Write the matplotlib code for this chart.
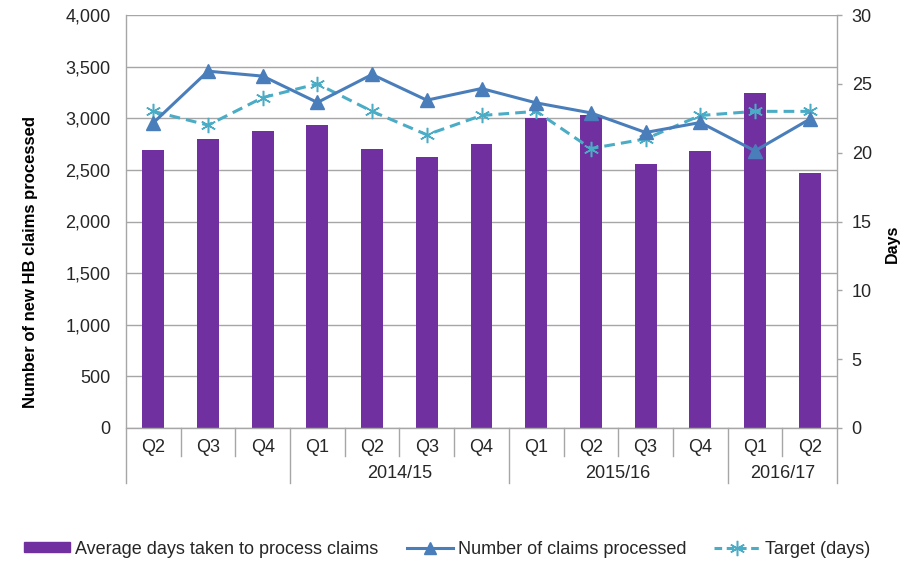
import numpy as np
import matplotlib
matplotlib.use("Agg")
import matplotlib.pyplot as plt
from matplotlib.lines import Line2D
from matplotlib.patches import Patch

plt.rcParams['font.family'] = ['Liberation Sans', 'DejaVu Sans']

quarters = ["Q2", "Q3", "Q4", "Q1", "Q2", "Q3", "Q4", "Q1", "Q2", "Q3", "Q4", "Q1", "Q2"]
years = ["", "2014/15", "2015/16", "2016/17"]
year_spans = [(0, 3), (3, 7), (7, 11), (11, 13)]

avg_days = [20.2, 21.0, 21.6, 22.0, 20.3, 19.7, 20.6, 22.5, 22.7, 19.2, 20.1, 24.3, 18.5]
claims = [2956, 3456, 3408, 3153, 3424, 3175, 3288, 3149, 3052, 2862, 2959, 2684, 2991]
target_days = [23.0, 22.0, 24.0, 25.0, 23.0, 21.3, 22.7, 23.0, 20.3, 21.0, 22.7, 23.0, 23.0]

claims_ticks = np.arange(0, 4001, 500)
days_ticks = np.arange(0, 31, 5)

purple = "#7030A0"
blue = "#4A7EBB"
teal = "#4BACC6"
grid_c = "#A6A6A6"
text_c = "#262626"
FS = 13

fig = plt.figure(figsize=(9.04, 5.62), dpi=100)
ax_d = fig.add_axes([126 / 904, 1 - 428 / 562, 711 / 904, 413 / 562])
ax_c = ax_d.twinx()

x = np.arange(len(quarters))
days_max = 30
claims_max = 4000

# days axis (bottom layer): gridlines, bars and target line
ax_d.set_ylim(0, days_max)
ax_d.set_xlim(-0.5, len(quarters) - 0.5)
for v in claims_ticks:
    ax_d.axhline(v * days_max / claims_max, color=grid_c, lw=1, zorder=0)
ax_d.bar(x, avg_days, width=0.4, color=purple, zorder=2)
ax_d.plot(x, target_days, color=teal, lw=2.2, ls=(0, (3.5, 2)), marker=(6, 2, 0),
          ms=11, mew=1.1, mec=teal, zorder=3)

# claims axis (top layer)
ax_c.set_ylim(0, claims_max)
ax_c.plot(x, claims, color=blue, lw=2.2, marker="^", ms=9.5, zorder=4)
ax_c.patch.set_visible(False)

# claims on the left, days on the right
ax_c.yaxis.tick_left()
ax_d.yaxis.tick_right()

ax_c.set_yticks(claims_ticks)
ax_c.set_yticklabels([f"{v:,}" for v in claims_ticks])
ax_d.set_yticks(days_ticks)
ax_d.set_yticklabels([str(v) for v in days_ticks])

ax_c.tick_params(axis="y", length=0, pad=11, labelsize=FS, labelcolor=text_c)
ax_d.tick_params(axis="y", length=3.6, width=1, color=grid_c, pad=7, labelsize=FS,
                 labelcolor=text_c)

for a in (ax_d, ax_c):
    for s in a.spines.values():
        s.set_visible(False)
ax_d.spines["bottom"].set_visible(True)
ax_d.spines["bottom"].set_color(grid_c)
ax_d.spines["bottom"].set_linewidth(1)

fig.text(31 / 904, 1 - 262 / 562, "Number of new HB claims processed", rotation=90,
         ha="center", va="center", fontsize=12, fontweight="bold", color="#000000")
fig.text(892 / 904, 1 - 244 / 562, "Days", rotation=90, ha="center", va="center",
         fontsize=11.5, fontweight="bold", color="#000000")

# multi-level category axis
ax_d.set_xticks([])
ax_c.set_xticks([])
trans = ax_d.get_xaxis_transform()
ax_h = 413.0
short = -28 / ax_h
long_ = -55 / ax_h
for i, q in enumerate(quarters):
    ax_d.text(i, -20 / ax_h, q, transform=trans, ha="center", va="center",
              fontsize=FS, color=text_c)
bounds = sorted(set([s for s, _ in year_spans] + [e for _, e in year_spans]))
for k in range(1, len(quarters)):
    y0 = long_ if k in bounds else short
    ax_d.add_line(Line2D([k - 0.5, k - 0.5], [0, y0], transform=trans,
                         color=grid_c, lw=1, clip_on=False))
# vertical axis lines (left and right), extending down through the category rows
for k in (0, len(quarters)):
    ax_d.add_line(Line2D([k - 0.5, k - 0.5], [long_, 1.0], transform=trans,
                         color=grid_c, lw=1, clip_on=False))
for label, (s, e) in zip(years, year_spans):
    if label:
        ax_d.text((s + e - 1) / 2, -46 / ax_h, label, transform=trans, ha="center",
                  va="center", fontsize=FS, color=text_c)

handles = [
    Patch(facecolor=purple, edgecolor=purple),
    Line2D([], [], color=blue, lw=2.2, marker="^", ms=9),
    Line2D([], [], color=teal, lw=2.2, ls=(0, (2.5, 1.5)), marker=(6, 2, 0), ms=11, mew=1.1),
]
labels = ["Average days taken to process claims", "Number of claims processed", "Target (days)"]
fig.legend(handles, labels, loc="center", bbox_to_anchor=(0.495, 1 - 549 / 562), ncol=3,
           frameon=False, fontsize=FS, handlelength=2.55, handleheight=0.5,
           handletextpad=0.28, columnspacing=1.55, labelcolor=text_c)

fig.savefig("out.png", dpi=100)
